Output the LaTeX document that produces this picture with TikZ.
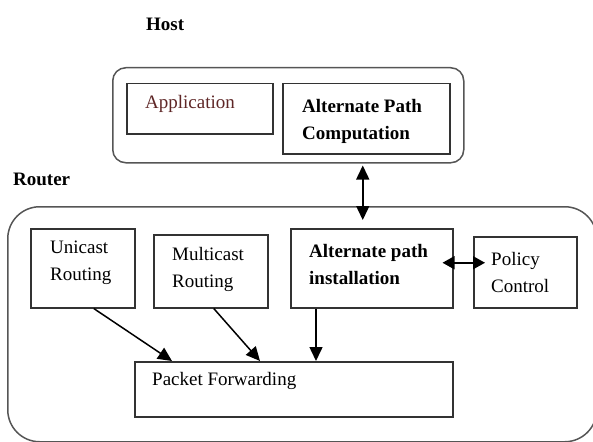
\documentclass[tikz,border=0pt]{standalone}
\usepackage{fontspec}
\setmainfont{Liberation Serif}
\usetikzlibrary{arrows.meta,calc}
\definecolor{frame}{HTML}{555555}
\definecolor{boxline}{HTML}{333333}
\definecolor{apptext}{HTML}{5E2626}
\begin{document}
\begin{tikzpicture}[x=1pt,y=-1pt,
  txt/.style={font=\fontsize{19}{27}\selectfont, align=left, anchor=west, inner sep=0pt},
  bold/.style={txt, font=\fontsize{19}{27}\selectfont\bfseries},
  box/.style={draw=boxline, line width=1.5pt, anchor=north west, inner sep=0pt},
  group/.style={draw=frame, line width=1.5pt, anchor=north west, inner sep=0pt},
  arr/.style={line width=1.5pt, -{Triangle[length=14pt,width=13pt]}},
  dbl/.style={line width=1.5pt, {Triangle[length=14pt,width=13pt]}-{Triangle[length=14pt,width=13pt]}},
  sdbl/.style={line width=1.5pt, {Triangle[length=12pt,width=13pt]}-{Triangle[length=12pt,width=13pt]}},
]
\useasboundingbox (0,0) rectangle (593,441);

% group frames
\node[group, rounded corners=13pt, minimum width=351pt, minimum height=95pt] (host) at (112,67) {};
\node[group, rounded corners=32pt, minimum width=589pt, minimum height=235pt] (router) at (7,206) {};

% group labels
\node[bold] (hostlabel) at (146,24) {Host};
\node[bold] (routerlabel) at (13,179) {Router};

% host modules
\node[box, minimum width=146pt, minimum height=50pt] (app) at (126,83) {};
\node[box, minimum width=167pt, minimum height=70pt] (apc) at (282,83) {};
\node[txt, text=apptext] (apptxt) at (145,104) {Application};
\node[bold] (apctxt) at (302,121.5) {Alternate Path\\Computation};

% router modules
\node[box, minimum width=104pt, minimum height=79pt] (uni) at (30,228) {};
\node[box, minimum width=114pt, minimum height=73pt] (multi) at (153,234) {};
\node[box, minimum width=162pt, minimum height=79pt] (inst) at (290,228) {};
\node[box, minimum width=103pt, minimum height=71pt] (policy) at (473,236) {};
\node[box, minimum width=318pt, minimum height=55pt] (pf) at (134,361) {};

\node[txt] (unitxt) at (50,263) {Unicast\\Routing};
\node[txt] (multitxt) at (172,269.5) {Multicast\\Routing};
\node[bold] (insttxt) at (309,264.5) {Alternate path\\installation};
\node[txt] (policytxt) at (491,272) {Policy\\Control};
\node[txt] (pftxt) at (152,381) {Packet Forwarding};

% connectors
\draw[dbl] ($(apc.south |- host.south)+(-3.5,2)$) -- ($(apc.south |- inst.north)+(-3.5,-8)$);
\draw[sdbl] ($(inst.east)+(-11,-5.5)$) -- ($(policy.west |- inst.east)+(12,-5.5)$);
\draw[arr] ($(uni.south)+(11,0)$) -- ($(pf.north west)+(38,0)$);
\draw[arr] ($(multi.south)+(3,0)$) -- ($(pf.north west)+(126,0)$);
\coordinate (instdrop) at ($(inst.south west)+(26,0)$);
\draw[arr] (instdrop) -- (instdrop |- pf.north);
\end{tikzpicture}
\end{document}
